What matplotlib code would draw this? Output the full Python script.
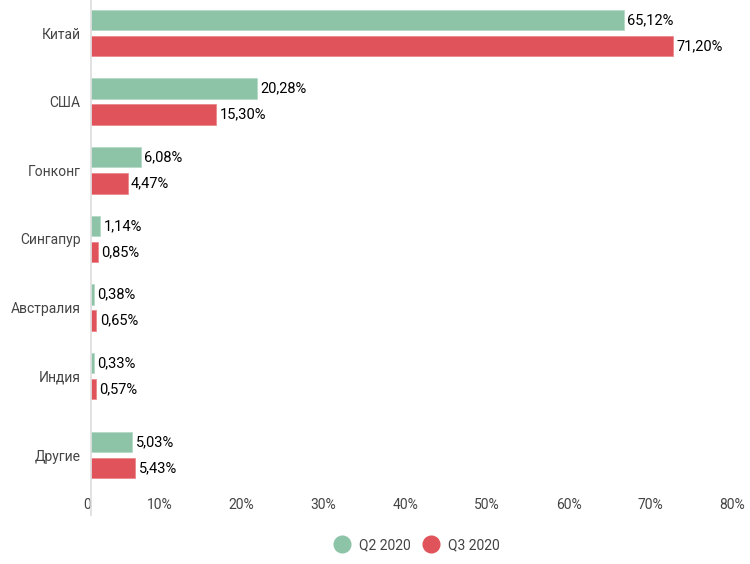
import matplotlib
matplotlib.use("Agg")
import matplotlib.pyplot as plt
from matplotlib.lines import Line2D
import matplotlib.transforms as mtransforms
import numpy as np

categories = ["Китай", "США", "Гонконг", "Сингапур", "Австралия", "Индия", "Другие"]
q2 = [65.12, 20.28, 6.08, 1.14, 0.38, 0.33, 5.03]
q3 = [71.20, 15.30, 4.47, 0.85, 0.65, 0.57, 5.43]
series_names = ["Q2 2020", "Q3 2020"]
xticks = [0, 10, 20, 30, 40, 50, 60, 70, 80]
xtick_labels = ["0", "10%", "20%", "30%", "40%", "50%", "60%", "70%", "80%"]

GREEN = "#8dc4a8"
RED = "#e0535a"

plt.rcParams['font.family'] = ['Roboto', 'DejaVu Sans']

W, H = 750, 564
fig = plt.figure(figsize=(W / 100, H / 100), dpi=100)
ax_left, ax_right, ax_top, ax_bot = 91, 745.4, 0, 490
ax = fig.add_axes([ax_left / W, 1 - ax_bot / H, (ax_right - ax_left) / W, (ax_bot - ax_top) / H])

# category positions (last group "Другие" sits a bit further down)
y = np.arange(len(categories), dtype=float)
y[-1] += 0.15
h = 0.30
off = 0.19
ax.barh(y - off, q2, height=h, color=GREEN, edgecolor="#b5dac6", linewidth=0.6, label=series_names[0])
ax.barh(y + off, q3, height=h, color=RED, edgecolor="#ea8a8e", linewidth=0.6, label=series_names[1])

lab_off = mtransforms.offset_copy(ax.transData, fig=fig, x=3.5, y=0, units="dots")
for yi, v in zip(y - off, q2):
    ax.text(v, yi, f"{v:.2f}%".replace(".", ","), va="center", ha="left", fontsize=10.5,
            color="#000", transform=lab_off)
for yi, v in zip(y + off, q3):
    ax.text(v, yi, f"{v:.2f}%".replace(".", ","), va="center", ha="left", fontsize=10.5,
            color="#000", transform=lab_off)

ax.set_xlim(0, 80)
ax.set_ylim(6.66, -0.481)
ax.set_yticks(y)
ax.set_yticklabels(categories, fontsize=10, color="#444")
ax.set_xticks(xticks)
ax.set_xticklabels(xtick_labels, fontsize=10, color="#444")
shift = mtransforms.ScaledTranslation(-4 / 100, 0, fig.dpi_scale_trans)
for lab in ax.get_xticklabels():
    lab.set_horizontalalignment("right")
    lab.set_transform(lab.get_transform() + shift)
ax.tick_params(axis="x", length=0, pad=6)
ax.tick_params(axis="y", length=0, pad=7.5)
for s in ax.spines.values():
    s.set_visible(False)

# vertical axis line extending through tick label row
fig.add_artist(Line2D([ax_left / W, ax_left / W], [1, 1 - 515 / H], color="#dddddd", linewidth=1.2))

handles = [Line2D([0], [0], marker="o", linestyle="", markersize=12, markerfacecolor=GREEN, markeredgecolor=GREEN),
           Line2D([0], [0], marker="o", linestyle="", markersize=12, markerfacecolor=RED, markeredgecolor=RED)]
fig.legend(handles, series_names, loc="center", bbox_to_anchor=(414 / W, 1 - 545 / H), ncol=2,
           frameon=False, fontsize=10, handletextpad=0.2, columnspacing=0.5, labelcolor="#444")

fig.savefig("out.png", dpi=100)
